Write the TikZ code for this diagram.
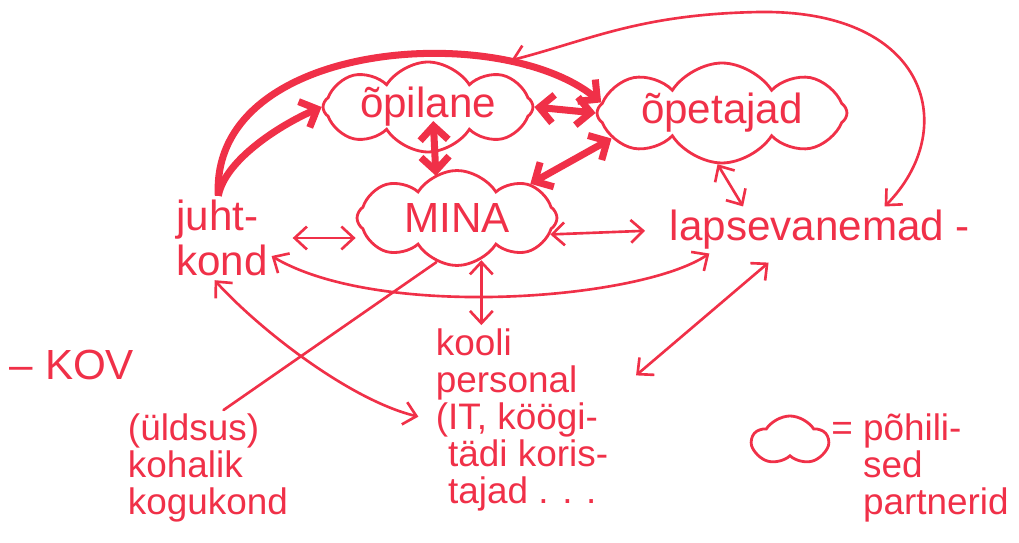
\documentclass[tikz,border=0pt]{standalone}
\usepackage{fontspec}
\setmainfont{Liberation Sans}
\usetikzlibrary{shapes.symbols,arrows.meta}
\definecolor{marker}{RGB}{240,48,72}

\begin{document}
\begin{tikzpicture}[x=0.02cm,y=-0.02cm,
  word/.style={text=marker,font=\fontsize{24}{26}\selectfont,align=left,inner sep=2pt},
  small/.style={text=marker,font=\fontsize{21}{21}\selectfont,align=left,inner sep=2pt},
  puff/.style={cloud,cloud puffs=8,cloud puff arc=115,cloud ignores aspect,draw=marker,line width=1.6pt},
  link/.style={draw=marker,line width=1.5pt,line cap=round,>={Straight Barb[length=7pt,width=13pt]}},
  boldlink/.style={draw=marker,line width=4pt,>={Straight Barb[length=8pt,width=16pt]}}]
\useasboundingbox (0,0) rectangle (1019,543);
% clouds
\node[puff,minimum width=4.2cm,minimum height=1.8cm,label={[word]center:õpilane}] (opilane) at (428,107) {};
\node[puff,minimum width=5.0cm,minimum height=2.0cm,label={[word]center:õpetajad}] (opetajad) at (722,113) {};
\node[puff,minimum width=4.0cm,minimum height=1.9cm,label={[word]center:MINA}] (mina) at (457,218) {};
% text
\node[word] (juhtkond) at (222,238) {juht-\\kond};
\node[word] (lapsevanemad) at (820,230) {lapsevanemad -};
\node[small] (personal) at (522,420) {kooli\\personal\\(IT, köögi-\\\hphantom{(}tädi koris-\\\hphantom{(}tajad . . .};
\node[small] (kogukond) at (208,468) {(üldsus)\\kohalik\\kogukond};
\node[word] (kov) at (72,365) {– KOV};
% legend
\node[puff,cloud puffs=5,minimum width=1.5cm,minimum height=1.0cm] (legend) at (790,441) {};
\node[small] (legendtext) at (920,468) {= põhili-\\\hphantom{= }sed\\\hphantom{= }partnerid};
% bold arrows
\draw[boldlink,->] (juhtkond.95) .. controls (225,160) and (280,125) .. (opilane.west);
\draw[boldlink,->] (juhtkond.95) .. controls (210,40) and (500,20) .. (opetajad.175);
\draw[boldlink,<->] (opilane.east) -- (opetajad.west);
\draw[boldlink,<->] ([xshift=3pt,yshift=-8pt]opilane.center) -- ([xshift=-12pt,yshift=24pt]mina.center);
\draw[boldlink,<->] (mina.25) -- (opetajad.193);
% thin arrows
\draw[link,<->,shorten <=12pt] (juhtkond.east) -- (juhtkond.east -| mina.west);
\draw[link,<->,shorten >=12pt] (mina.-10) -- (lapsevanemad.west);
\draw[link,<->] (opetajad.-95) -- (lapsevanemad.163);
\draw[link,<->] (lapsevanemad.20) .. controls (960,130) and (930,10) .. (760,12) .. controls (640,14) and (590,40) .. ([xshift=4pt,yshift=8pt]opilane.north east);
\draw[link,<->] (juhtkond.-20) .. controls (380,320) and (640,300) .. (lapsevanemad.-168);
\draw[link,<->] (mina.-60) -- (mina.-60 |- personal.north);
\draw[link,<->,shorten <=8pt,shorten >=18pt] (lapsevanemad.-150) -- (personal.15);
\draw[link,<->,shorten >=8pt] (juhtkond.-100) .. controls (260,330) and (350,400) .. (personal.west);
\draw[link] (mina.-115) -- (kogukond.75);
\end{tikzpicture}
\end{document}
